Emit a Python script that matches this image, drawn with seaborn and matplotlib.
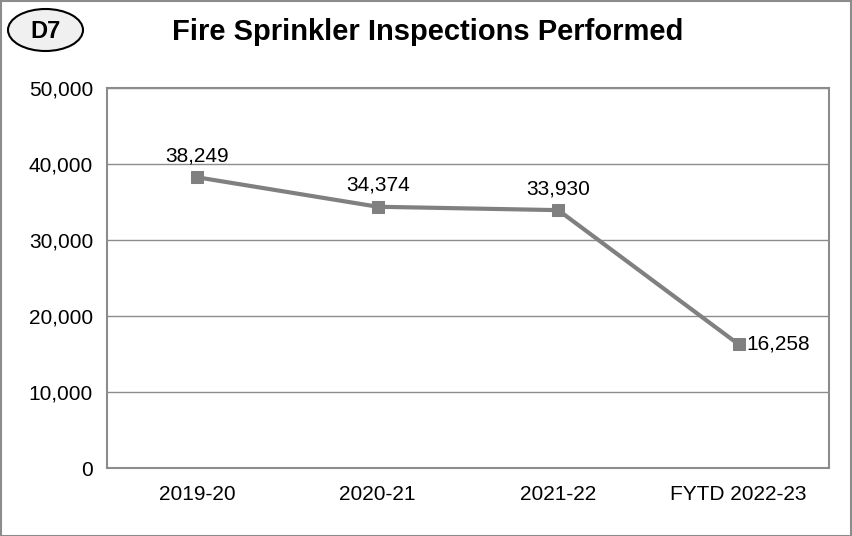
import matplotlib
matplotlib.use("Agg")
import matplotlib.pyplot as plt
import seaborn as sns
import pandas as pd
from matplotlib.patches import Ellipse, Rectangle
from matplotlib.ticker import FuncFormatter

categories = ["2019-20", "2020-21", "2021-22", "FYTD 2022-23"]
values = [38249, 34374, 33930, 16258]
yticks = [0, 10000, 20000, 30000, 40000, 50000]

df = pd.DataFrame({"year": categories, "inspections": values})

sns.set_theme(style="white")
plt.rcParams['font.family'] = ['Liberation Sans', 'DejaVu Sans']
plt.rcParams['text.color'] = 'black'

W, H = 852, 536
fig = plt.figure(figsize=(W / 100, H / 100), dpi=100)
ax = fig.add_axes([107 / W, 1 - 468 / H, (829 - 107) / W, (468 - 88) / H])

sns.lineplot(data=df, x="year", y="inspections", ax=ax, sort=False,
             color="#808080", linewidth=3, marker="s", markersize=9,
             markeredgecolor="#808080", markerfacecolor="#808080")

ax.set_xlim(-0.5, len(categories) - 0.5)
ax.set_ylim(0, 50000)
ax.set_yticks(yticks)
ax.yaxis.set_major_formatter(FuncFormatter(lambda v, p: f"{int(v):,}"))
ax.grid(axis="y", color="#8c8c8c", linewidth=1)
ax.set_axisbelow(True)
ax.set_xlabel("")
ax.set_ylabel("")
for s in ax.spines.values():
    s.set_color("#8c8c8c")
    s.set_linewidth(1.5)
ax.tick_params(axis="both", labelsize=15, labelcolor="black", length=5, width=1,
               color="#8c8c8c", direction="out")
ax.tick_params(axis="x", pad=12)
ax.set_xticks([x + 0.5 for x in range(-1, len(categories))], minor=True)
ax.tick_params(axis="x", which="major", length=0)
ax.tick_params(axis="x", which="minor", length=5, color="#8c8c8c", width=1)
ax.tick_params(axis="y", pad=5)

for i, v in enumerate(values):
    if i < len(values) - 1:
        ax.annotate(f"{v:,}", (i, v), xytext=(0, 8.5), textcoords="offset points",
                    ha="center", va="bottom", fontsize=15, color="black")
    else:
        ax.annotate(f"{v:,}", (i, v), xytext=(5.5, 0), textcoords="offset points",
                    ha="left", va="center", fontsize=15, color="black")

fig.text(428 / W, 1 - 32 / H, "Fire Sprinkler Inspections Performed",
         ha="center", va="center", fontsize=21, fontweight="bold", color="black")

ell = Ellipse((45.5 / W, 1 - 30 / H), 75 / W, 42 / H, transform=fig.transFigure,
              facecolor="#f0f0f0", edgecolor="black", linewidth=1.5)
fig.add_artist(ell)
fig.text(46 / W, 1 - 31 / H, "D7", ha="center", va="center", fontsize=17,
         fontweight="bold", color="black")

border = Rectangle((0.5 / W, 0.5 / H), 1 - 1.5 / W, 1 - 1.5 / H,
                   transform=fig.transFigure, fill=False, edgecolor="#8c8c8c",
                   linewidth=1.5)
fig.add_artist(border)

fig.savefig("out.png", dpi=100)
